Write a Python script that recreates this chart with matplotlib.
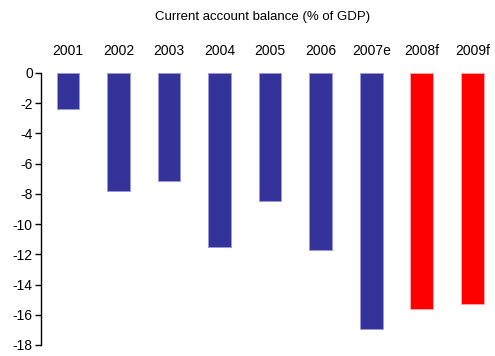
import matplotlib
matplotlib.use("Agg")
import matplotlib.pyplot as plt

# Current account balance (% of GDP)
years = ["2001", "2002", "2003", "2004", "2005", "2006", "2007e", "2008f", "2009f"]
balance = [-2.4, -7.8, -7.15, -11.5, -8.5, -11.7, -16.95, -15.6, -15.3]
colors = ["#333399"] * 7 + ["#ff0000"] * 2

plt.rcParams["font.family"] = ["Liberation Sans", "DejaVu Sans"]
plt.rcParams["axes.unicode_minus"] = False

fig = plt.figure(figsize=(4.95, 3.56), dpi=100)
ax = fig.add_axes([0.083, 0.031, 0.912, 0.764])

x = range(len(years))
ax.bar(x, balance, width=0.45, color=colors, edgecolor=["#9999dd"] * 7 + ["#ffaaaa"] * 2,
       linewidth=0.6)

ax.set_ylim(-18, 0)
ax.set_xlim(-0.53, 8.4)
ax.set_yticks(range(0, -19, -2))
ax.tick_params(axis="y", labelsize=10, length=4, width=1, pad=2, colors="black")

ax.xaxis.tick_top()
ax.set_xticks(list(x))
ax.set_xticklabels(years, fontsize=10)
ax.tick_params(axis="x", length=0, pad=11)

for side in ["top", "right", "bottom"]:
    ax.spines[side].set_visible(False)
ax.spines["left"].set_linewidth(1)

fig.text(0.53, 0.952, "Current account balance (% of GDP)", ha="center", va="center", fontsize=9.5)

fig.savefig("out.png", dpi=100)
